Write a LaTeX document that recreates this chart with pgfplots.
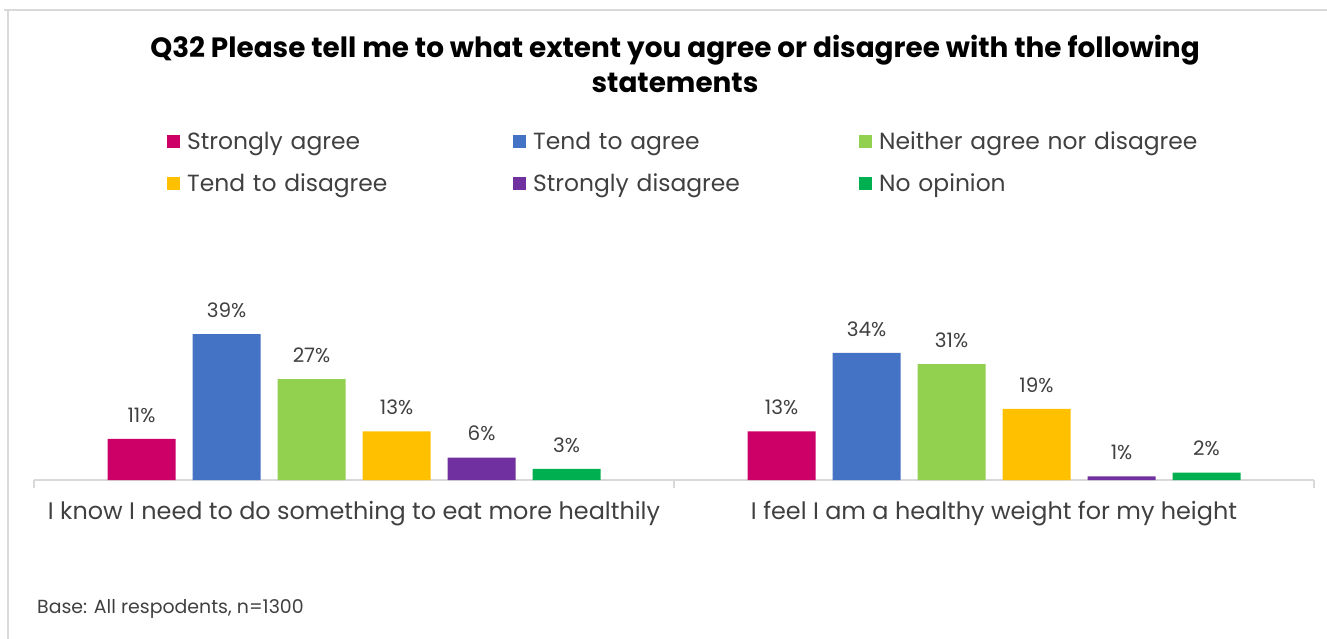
\documentclass[border=0pt]{standalone}
\usepackage{fontspec}
\setmainfont{Poppins}
\usepackage{pgfplots}
\pgfplotsset{compat=1.18}
\definecolor{cSA}{HTML}{CC0066}
\definecolor{cTA}{HTML}{4472C4}
\definecolor{cN}{HTML}{92D050}
\definecolor{cTD}{HTML}{FFC000}
\definecolor{cSD}{HTML}{7030A0}
\definecolor{cNO}{HTML}{00B050}
\definecolor{framegray}{HTML}{D9D9D9}
\definecolor{txt}{HTML}{404040}
\begin{document}
\begin{tikzpicture}[x=1bp,y=1bp]
\useasboundingbox (0,0) rectangle (1327,-639);
\draw[framegray, line width=2bp] (4,-10) -- (1327,-10);
\draw[framegray, line width=2bp] (8,-10) -- (8,-639);
\node[font=\bfseries\fontsize{28}{32}\selectfont, anchor=base] at (675,-58) {Q32 Please tell me to what extent you agree or disagree with the following};
\node[font=\bfseries\fontsize{28}{32}\selectfont, anchor=base] at (675,-93) {statements};
\node[font=\fontsize{19}{22}\selectfont, text=txt, anchor=base west, inner sep=0] at (37,-613) {Base: All respodents, n=1300};
\begin{axis}[
  at={(34bp,-480bp)}, anchor=south west,
  scale only axis, width=1280bp, height=149.6bp,
  xmin=-0.5, xmax=1.5, ymin=0, ymax=40,
  axis y line=none, axis x line*=bottom,
  axis line style={framegray, line width=1.5bp, -},
  ybar=17bp, bar width=68bp,
  xtick={0,1},
  xticklabels={I know I need to do something to eat more healthily, I feel I am a healthy weight for my height},
  major tick length=0pt,
  minor xtick={-0.5,0.5,1.5}, minor tick length=8bp, tick align=outside,
  minor tick style={framegray, line width=1.5bp},
  xticklabel style={font=\fontsize{24}{28}\selectfont, text=txt, yshift=-18bp},
  /pgf/number format/assume math mode=true,
  nodes near coords={\pgfmathprintnumber{\pgfplotspointmeta}\%},
  nodes near coords style={font=\fontsize{20}{24}\selectfont, text=txt, yshift=13bp},
  clip=false,
  legend columns=3,
  legend style={draw=none, fill=none, inner sep=0pt, at={(axis description cs:0.1039,2.323)}, anchor=north west,
    row sep=20bp, column sep=0pt, font=\fontsize{23.5}{28}\selectfont,
    nodes={text width=318.5bp, align=left, inner xsep=7.5bp, inner ysep=0pt, text height=17bp, text depth=5bp, text=txt}},
  legend cell align=left,
  legend image code/.code={\fill[#1,draw=none] (0bp,-4bp) rectangle (12.5bp,9bp);},
]
\addplot[fill=cSA, draw=none] coordinates {(0,11) (1,13)};
\addplot[fill=cTA, draw=none] coordinates {(0,39) (1,34)};
\addplot[fill=cN, draw=none] coordinates {(0,27) (1,31)};
\addplot[fill=cTD, draw=none] coordinates {(0,13) (1,19)};
\addplot[fill=cSD, draw=none] coordinates {(0,6) (1,1)};
\addplot[fill=cNO, draw=none] coordinates {(0,3) (1,2)};
\legend{Strongly agree, Tend to agree, \mbox{Neither agree nor disagree}, Tend to disagree, Strongly disagree, No opinion}
\end{axis}
\end{tikzpicture}
\end{document}
